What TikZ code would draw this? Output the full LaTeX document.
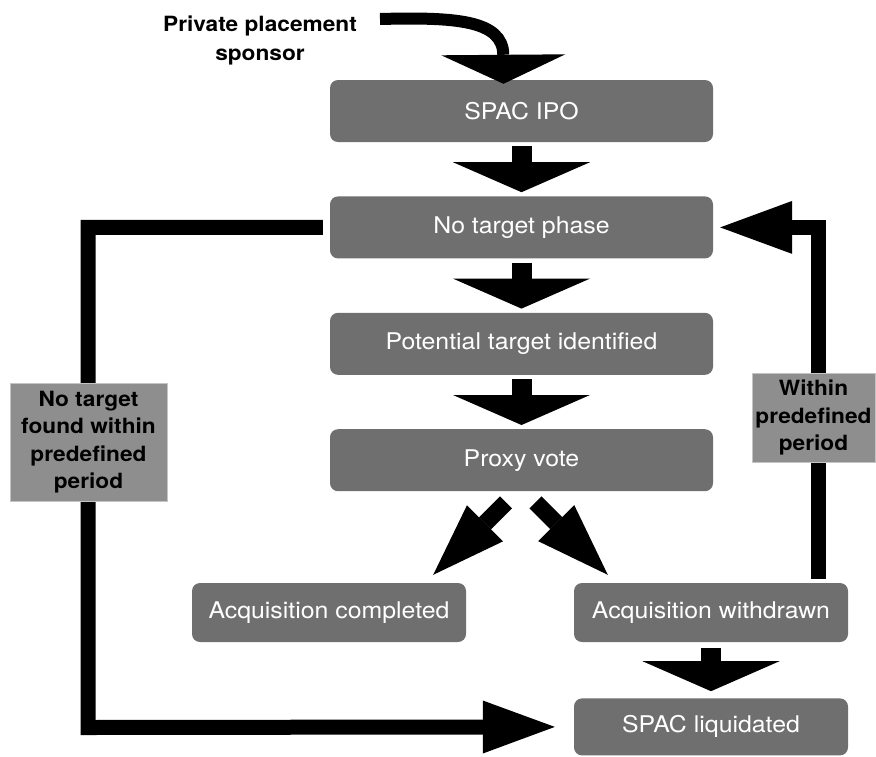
\documentclass[tikz,border=0pt]{standalone}
\usepackage{fontspec}
\setmainfont{TeX Gyre Heros}[FakeStretch=1.08]
\usepackage{tikz}
\usetikzlibrary{positioning,calc,arrows.meta}
\definecolor{boxgray}{HTML}{6F6F6F}
\definecolor{taggray}{HTML}{8E8E8E}
\definecolor{tagline}{HTML}{C4C4C4}
\tikzset{box/.style={rectangle,rounded corners=8pt,fill=boxgray,text=white,minimum width=383pt,minimum height=62pt,inner sep=0pt,font=\fontsize{23}{27}\selectfont},
         smallbox/.style={box,minimum width=274pt,minimum height=59pt},
         tag/.style={rectangle,fill=taggray,draw=tagline,line width=0.8pt,inner sep=0pt,align=center,font=\fontsize{21}{27.5}\selectfont\bfseries},
         flow/.style={line width=20pt,-{Triangle[width=137pt,length=30pt,line width=0pt]}},
         tilt/.style={line width=17pt,-{Triangle[width=51pt,length=73pt,line width=0pt]}},
         back/.style={line width=15pt,line join=miter,-{Triangle[width=53pt,length=72pt,line width=0pt]}},
         feed/.style={line width=12pt,-{Triangle[width=124pt,length=29pt,line width=0pt]}}
}

\begin{document}
\begin{tikzpicture}[x=1pt,y=-1pt]
    \useasboundingbox (0,0) rectangle (876,756);
    \node[box] (ipo) at (521.5,111) {SPAC IPO};
    \node[box, below=54pt of ipo] (notarget) {No target phase};
    \node[box, below=54pt of notarget] (potential) {Potential target identified};
    \node[box, below=54pt of potential] (vote) {Proxy vote};
    \node[smallbox] (done) at (329,612.5) {Acquisition completed};
    \node[smallbox] (withdrawn) at (711,612.5) {Acquisition withdrawn};
    \node[smallbox, minimum height=57pt, below=56pt of withdrawn] (liquid) {SPAC liquidated};
    \node[align=center, font=\fontsize{21}{29}\selectfont\bfseries] (sponsor) at (260,40) {Private placement\\sponsor};
    \coordinate (src) at (380,19);
    \coordinate (lowleft) at (88,727.5);

    \draw[feed] (src) .. controls (455,17) and (503,20) .. ([xshift=-18pt,yshift=-4pt]ipo.north);
    \draw[flow] ([yshift=-4pt]ipo.south) -- ([yshift=4pt]notarget.north);
    \draw[flow] ([yshift=-4pt]notarget.south) -- ([yshift=4pt]potential.north);
    \draw[flow] ([yshift=-4pt]potential.south) -- ([yshift=4pt]vote.north);
    \draw[tilt] ($(vote.south)+(-15.5,11)$) -- ($(done.north east)+(-33,-8)$);
    \draw[tilt] ($(vote.south)+(14,11)$) -- ($(withdrawn.north west)+(34,-8)$);
    \draw[flow] ([yshift=-6pt]withdrawn.south) -- ([yshift=7pt]liquid.north);
    \draw[back] ([xshift=-7pt]notarget.west) -| (lowleft) -- ([xshift=-19pt]liquid.west);
    \draw[back] ([xshift=107pt,yshift=4pt]withdrawn.north) |- ([xshift=7pt]notarget.east);

    % labels sit on top of the loop lines
    \node[tag, minimum width=157pt, minimum height=118pt] (nofound) at (88.5,442) {No target\\found within\\predefined\\period};
    \node[tag, minimum width=123pt, minimum height=89pt] (within) at (813.5,417.5) {Within\\predefined\\period};
\end{tikzpicture}
\end{document}
